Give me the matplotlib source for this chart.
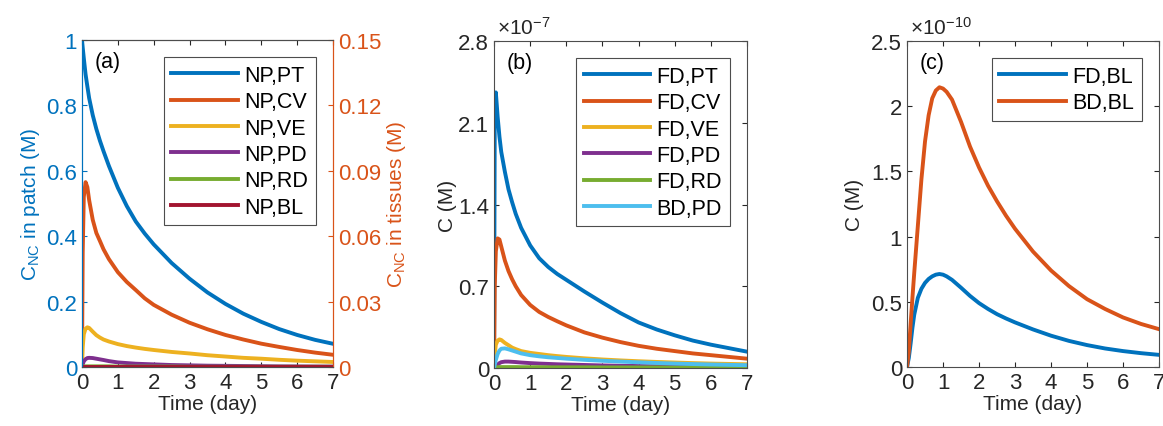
import numpy as np
import matplotlib
matplotlib.use('Agg')
import matplotlib.pyplot as plt

plt.rcParams['font.family'] = ['Liberation Sans', 'DejaVu Sans']
plt.rcParams['mathtext.default'] = 'regular'

# MATLAB default line colours
c_blue = '#0072BD'
c_orange = '#D95319'
c_yellow = '#EDB120'
c_purple = '#7E2F8E'
c_green = '#77AC30'
c_cyan = '#4DBEEE'
c_red = '#A2142F'
c_axis = '#4d4d4d'

# ---- panel (a) : NP concentrations ----
t_ab = [0, 0.02, 0.05, 0.1, 0.15, 0.2, 0.3, 0.4, 0.5, 0.6, 0.75, 1, 1.25, 1.5,
        1.75, 2, 2.5, 3, 3.5, 4, 4.5, 5, 5.5, 6, 6.5, 7]
# patch (left axis, M)
np_pt = [1.0, 0.977, 0.945, 0.895, 0.858, 0.822, 0.77, 0.728, 0.692, 0.66,
         0.615, 0.548, 0.492, 0.445, 0.408, 0.375, 0.318, 0.27, 0.228, 0.193,
         0.163, 0.138, 0.116, 0.098, 0.083, 0.071]
# tissues (right axis, M)
np_cv = [0, 0.0525, 0.078, 0.0848, 0.0825, 0.0765, 0.0675, 0.0615, 0.0578,
         0.054, 0.0495, 0.0435, 0.039, 0.0353, 0.0315, 0.0285, 0.024, 0.0203,
         0.0173, 0.0147, 0.0126, 0.0107, 0.0092, 0.0078, 0.0066, 0.0056]
np_ve = [0, 0.009, 0.015, 0.0176, 0.0182, 0.0179, 0.0162, 0.0146, 0.0135,
         0.0126, 0.0117, 0.0105, 0.0096, 0.0089, 0.0083, 0.0078, 0.0069,
         0.0062, 0.0054, 0.0048, 0.0042, 0.0038, 0.0033, 0.0029, 0.0026, 0.0023]
np_pd = [0, 0.0012, 0.0026, 0.0036, 0.0041, 0.0042, 0.0041, 0.0038, 0.0035,
         0.0032, 0.0027, 0.0021, 0.0018, 0.0015, 0.00135, 0.0012, 0.0009,
         0.00075, 0.0006, 0.00053, 0.00045, 0.00038, 0.0003, 0.00027, 0.00023,
         0.0002]
np_rd = [0, 0.0001, 0.0002, 0.0003, 0.0003, 0.0003, 0.0003, 0.0003, 0.0003,
         0.0003, 0.0003, 0.0002, 0.0002, 0.0002, 0.0002, 0.0002, 0.0002, 0.0001,
         0.0001, 0.0001, 0.0001, 0.0001, 0.0001, 0.0001, 0.0001, 0.0001]
np_bl = [0] * 26

# ---- panel (b) : free / bound drug, units of 1e-7 M ----
fd_pt = [0, 2.2, 2.36, 2.15, 1.98, 1.85, 1.68, 1.53, 1.42, 1.32, 1.2, 1.05,
         0.94, 0.865, 0.805, 0.755, 0.655, 0.56, 0.47, 0.39, 0.33, 0.28, 0.235,
         0.2, 0.17, 0.14]
fd_cv = [0, 0.7, 1.0, 1.11, 1.1, 1.04, 0.92, 0.83, 0.76, 0.7, 0.625, 0.54,
         0.48, 0.437, 0.4, 0.365, 0.305, 0.26, 0.222, 0.19, 0.165, 0.145,
         0.125, 0.11, 0.095, 0.08]
fd_ve = [0, 0.12, 0.2, 0.235, 0.245, 0.24, 0.215, 0.195, 0.175, 0.162, 0.145,
         0.13, 0.12, 0.11, 0.102, 0.095, 0.083, 0.073, 0.065, 0.058, 0.052,
         0.047, 0.042, 0.038, 0.035, 0.032]
fd_pd = [0, 0.005, 0.015, 0.03, 0.042, 0.05, 0.055, 0.055, 0.053, 0.051, 0.047,
         0.042, 0.038, 0.035, 0.032, 0.03, 0.026, 0.022, 0.019, 0.017, 0.015,
         0.013, 0.011, 0.01, 0.009, 0.008]
fd_rd = [0, 0.003, 0.005, 0.007, 0.008, 0.008, 0.008, 0.008, 0.008, 0.008,
         0.007, 0.007, 0.007, 0.006, 0.006, 0.006, 0.006, 0.005, 0.005, 0.005,
         0.005, 0.004, 0.004, 0.004, 0.004, 0.004]
bd_pd = [0, 0.03, 0.07, 0.12, 0.15, 0.165, 0.168, 0.16, 0.15, 0.14, 0.125,
         0.11, 0.1, 0.092, 0.086, 0.08, 0.07, 0.062, 0.055, 0.049, 0.043, 0.038,
         0.034, 0.03, 0.027, 0.024]

# ---- panel (c) : blood, units of 1e-10 M ----
t_c = [0, 0.05, 0.1, 0.15, 0.2, 0.3, 0.4, 0.5, 0.6, 0.7, 0.8, 0.9, 1.0, 1.1,
       1.25, 1.5, 1.75, 2, 2.25, 2.5, 2.75, 3, 3.5, 4, 4.5, 5, 5.5, 6, 6.5, 7]
fd_bl = [0, 0.07, 0.18, 0.3, 0.4, 0.53, 0.6, 0.645, 0.675, 0.695, 0.708,
         0.713, 0.708, 0.695, 0.668, 0.608, 0.545, 0.49, 0.445, 0.405, 0.372,
         0.342, 0.288, 0.24, 0.2, 0.168, 0.142, 0.122, 0.106, 0.093]
bd_bl = [0, 0.12, 0.33, 0.53, 0.72, 1.08, 1.44, 1.73, 1.93, 2.06, 2.12, 2.145,
         2.135, 2.11, 2.05, 1.88, 1.69, 1.53, 1.39, 1.27, 1.16, 1.06, 0.885,
         0.74, 0.62, 0.52, 0.445, 0.38, 0.33, 0.29]

LW = 2.8
FS_TICK = 16
FS_LAB = 15
FS_LEG = 15.5


def matlab_axes(ax):
    for s in ax.spines.values():
        s.set_color(c_axis)
        s.set_linewidth(0.8)
    ax.tick_params(direction='in', length=3.5, width=0.8, top=True, right=True,
                   labelsize=FS_TICK, colors='#262626')
    ax.set_xlim(0, 7)
    ax.set_xticks(range(8))
    ax.set_xlabel('Time (day)', fontsize=FS_LAB, color='#262626', labelpad=1)


def add_legend(ax, handles=None, labels=None):
    if handles is None:
        handles, labels = ax.get_legend_handles_labels()
    leg = ax.legend(handles, labels, loc='upper right', fontsize=FS_LEG,
                    handlelength=3.1, handletextpad=0.3, labelspacing=0.25,
                    borderaxespad=0.8, borderpad=0.35, fancybox=False,
                    framealpha=1, edgecolor=c_axis)
    leg.get_frame().set_linewidth(0.8)


fig = plt.figure(figsize=(11.63, 4.27), dpi=100)

# (a)
ax1 = fig.add_axes([0.0705, 0.1382, 0.2158, 0.7658])
ax2 = ax1.twinx()
matlab_axes(ax1)
l1, = ax1.plot(t_ab, np_pt, color=c_blue, lw=LW, label='NP,PT')
l2, = ax2.plot(t_ab, np_cv, color=c_orange, lw=LW, label='NP,CV')
l3, = ax2.plot(t_ab, np_ve, color=c_yellow, lw=LW, label='NP,VE')
l4, = ax2.plot(t_ab, np_pd, color=c_purple, lw=LW, label='NP,PD')
l5, = ax2.plot(t_ab, np_rd, color=c_green, lw=LW, label='NP,RD')
l6, = ax2.plot(t_ab, np_bl, color=c_red, lw=LW, label='NP,BL')
ax1.set_ylim(0, 1)
ax1.set_yticks([0, 0.2, 0.4, 0.6, 0.8, 1])
ax1.set_yticklabels(['0', '0.2', '0.4', '0.6', '0.8', '1'])
ax1.tick_params(axis='y', colors=c_blue, right=False)
ax1.set_ylabel('C$_{NC}$ in patch (M)', fontsize=FS_LAB, color=c_blue, labelpad=3)
ax2.set_ylim(0, 0.15)
ax2.set_yticks([0, 0.03, 0.06, 0.09, 0.12, 0.15])
ax2.set_yticklabels(['0', '0.03', '0.06', '0.09', '0.12', '0.15'])
ax2.tick_params(axis='y', direction='in', length=3.5, width=0.8,
                labelsize=FS_TICK, colors=c_orange)
ax2.set_ylabel('C$_{NC}$ in tissues (M)', fontsize=FS_LAB, color=c_orange, labelpad=3)
for a in (ax1, ax2):
    a.spines['left'].set_color(c_blue)
    a.spines['right'].set_color(c_orange)
    a.spines['top'].set_color(c_axis)
    a.spines['bottom'].set_color(c_axis)
    a.spines['left'].set_linewidth(0.8)
    a.spines['right'].set_linewidth(0.8)
ax2.set_xlim(0, 7)
lines_a = [l1, l2, l3, l4, l5, l6]
add_legend(ax2, lines_a, [l.get_label() for l in lines_a])
ax2.text(0.05, 0.935, '(a)', transform=ax2.transAxes, fontsize=FS_LEG, va='center')

# (b)
axb = fig.add_axes([0.4248, 0.1358, 0.2175, 0.7658])
matlab_axes(axb)
axb.plot(t_ab, fd_pt, color=c_blue, lw=LW, label='FD,PT')
axb.plot(t_ab, fd_cv, color=c_orange, lw=LW, label='FD,CV')
axb.plot(t_ab, fd_ve, color=c_yellow, lw=LW, label='FD,VE')
axb.plot(t_ab, fd_pd, color=c_purple, lw=LW, label='FD,PD')
axb.plot(t_ab, fd_rd, color=c_green, lw=LW, label='FD,RD')
axb.plot(t_ab, bd_pd, color=c_cyan, lw=LW, label='BD,PD')
axb.set_ylim(0, 2.8)
axb.set_yticks([0, 0.7, 1.4, 2.1, 2.8])
axb.set_yticklabels(['0', '0.7', '1.4', '2.1', '2.8'])
axb.set_ylabel('C (M)', fontsize=FS_LAB, color='#262626', labelpad=1)
add_legend(axb)
axb.text(0.05, 0.935, '(b)', transform=axb.transAxes, fontsize=FS_LEG, va='center')
axb.text(0.01, 1.01, r'$\times10^{-7}$', transform=axb.transAxes, fontsize=FS_LAB,
         color='#262626', va='bottom')

# (c)
axc = fig.add_axes([0.7799, 0.1382, 0.2167, 0.7635])
matlab_axes(axc)
axc.plot(t_c, fd_bl, color=c_blue, lw=LW, label='FD,BL')
axc.plot(t_c, bd_bl, color=c_orange, lw=LW, label='BD,BL')
axc.set_ylim(0, 2.5)
axc.set_yticks([0, 0.5, 1, 1.5, 2, 2.5])
axc.set_yticklabels(['0', '0.5', '1', '1.5', '2', '2.5'])
axc.set_ylabel('C (M)', fontsize=FS_LAB, color='#262626', labelpad=5)
add_legend(axc)
axc.text(0.05, 0.935, '(c)', transform=axc.transAxes, fontsize=FS_LEG, va='center')
axc.text(0.01, 1.01, r'$\times10^{-10}$', transform=axc.transAxes, fontsize=FS_LAB,
         color='#262626', va='bottom')

fig.savefig('out.png', dpi=100)
